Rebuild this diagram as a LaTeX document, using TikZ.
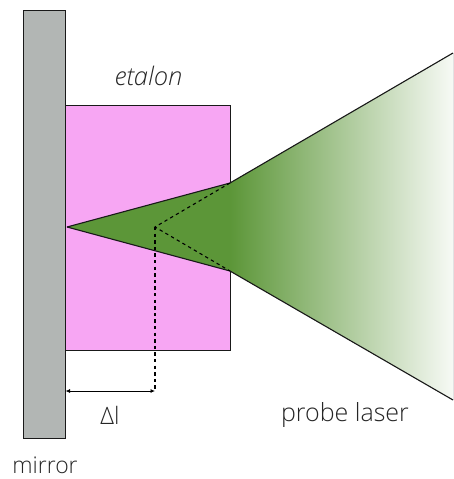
\documentclass[tikz,border=0pt]{standalone}
\usepackage{fontspec}
\setmainfont{Open Sans}[UprightFont=* Light, ItalicFont=* Light Italic]
\usetikzlibrary{arrows.meta}
\definecolor{mirrorgray}{RGB}{178,182,180}
\definecolor{pinkbox}{RGB}{247,166,243}
\definecolor{beamgreen}{RGB}{92,150,56}
\begin{document}
\begin{tikzpicture}[x=1pt,y=-1pt,
  solid line/.style={draw=black!90,line width=1.1pt,line join=miter},
  dash line/.style={draw=black,line width=1.1pt,dash pattern=on 3.3pt off 3.3pt},
  label text/.style={text=black!85,inner sep=0pt}]
\useasboundingbox (0,0) rectangle (453,479);
\node[draw=black!90,line width=1.1pt,fill=mirrorgray,minimum width=42pt,minimum height=428pt,inner sep=0pt,anchor=north west] (mirror) at (23,9.5) {};
\node[draw=black!90,line width=1.1pt,fill=pinkbox,minimum width=165pt,minimum height=245pt,inner sep=0pt,anchor=north west] (etalon) at (65,105) {};
\fill[beamgreen] (67,227) -- (230,183) -- (230,271) -- cycle;
\fill[left color=beamgreen,right color=beamgreen!5] (230,183) -- (453,53) -- (453,400) -- (230,271) -- cycle;
\draw[solid line] (67,227) -- (230,183) -- (453,53);
\draw[solid line] (67,227) -- (230,271) -- (453,400);
\coordinate (apex) at (155,227);
\coordinate (top) at (230,183);
\coordinate (bottom) at (230,271);
\coordinate (foot) at (155,391);
\coordinate (wall) at (65.5,391);
\draw[dash line] (top) -- (apex) -- (bottom);
\draw[dash line] (apex) -- (foot);
\draw[line width=.8pt,{Latex[length=4.5pt,width=4pt]}-{Latex[length=4.5pt,width=4pt]}] (wall) -- (foot);
\node[label text,font=\fontsize{25.5}{28}\selectfont\itshape] (lab1) at (148.5,76) {etalon};
\node[label text,font=\fontsize{24}{28}\selectfont] (lab2) at (110,415) {Δl};
\node[label text,font=\fontsize{25}{28}\selectfont] (lab3) at (345,415) {probe laser};
\node[label text,font=\fontsize{23}{26}\selectfont] (lab4) at (45,465.5) {mirror};
\end{tikzpicture}
\end{document}
